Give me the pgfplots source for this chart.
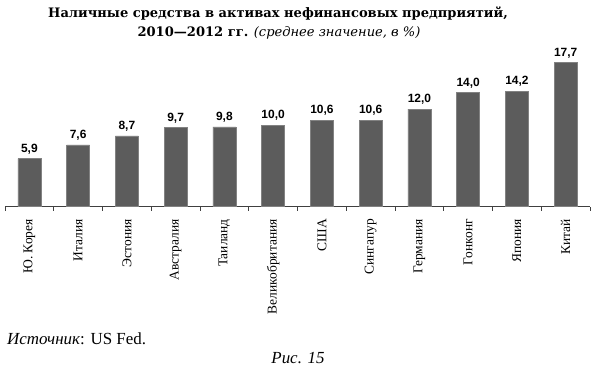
\documentclass[border=0pt]{standalone}
\usepackage{fontspec}
\setmainfont{Liberation Serif}
\newfontfamily\numfont{Liberation Sans}
\newfontfamily\titlefont{DejaVu Serif}
\usepackage{pgfplots}
\pgfplotsset{compat=1.18}
\definecolor{barfill}{RGB}{92,92,92}
\definecolor{baredge}{RGB}{130,130,130}
\begin{document}
\begin{tikzpicture}
\begin{axis}[
  name=ax,
  at={(0,0)}, anchor=south west,
  scale only axis, width=585bp, height=162.8bp,
  xmin=-0.5, xmax=11.5, ymin=0, ymax=20,
  axis y line=none, axis x line*=bottom,
  x axis line style={-, draw=black!75, line width=0.6bp},
  xtick={0,...,11},
  xticklabels={Ю. Корея,Италия,Эстония,Австралия,Таиланд,Великобритания,США,Сингапур,Германия,Гонконг,Япония,Китай},
  major tick length=0pt,
  minor xtick={-0.5,0.5,...,11.5},
  minor tick length=4bp,
  tick align=outside,
  minor tick style={draw=black!75, line width=0.6bp},
  xticklabel style={rotate=90, anchor=east, font=\fontsize{13.5}{15}\selectfont},
  xticklabel shift=9bp,
  ybar, bar width=23bp,
  nodes near coords={\pgfmathprintnumber[fixed,fixed zerofill,precision=1,use comma,assume math mode=true]{\pgfplotspointmeta}},
  every node near coord/.append style={font=\numfont\bfseries\fontsize{12}{14}\selectfont, anchor=south, yshift=1bp},
  clip=false,
]
\addplot[fill=barfill, draw=baredge, line width=0.5bp] coordinates {
(0,5.9) (1,7.6) (2,8.7) (3,9.7) (4,9.8) (5,10.0) (6,10.6) (7,10.6) (8,12.0) (9,14.0) (10,14.2) (11,17.7)};
\end{axis}
\begin{scope}[shift={(ax.south west)}, shift={(-5bp,-161.3bp)}, x=1bp, y=1bp]
\node[font=\titlefont\fontsize{13.1}{16}\selectfont\bfseries, anchor=base] at (278,351) {Наличные средства в активах нефинансовых предприятий,};
\node[font=\titlefont\fontsize{13.1}{16}\selectfont, anchor=base] at (279,332) {\textbf{2010—2012 гг.} \textit{(среднее значение, в \%)}};
\node[font=\fontsize{17}{19}\selectfont, anchor=base west, inner sep=0pt] at (7,24) {\textit{Источник}: US Fed.};
\node[font=\fontsize{17}{19}\selectfont, anchor=base, inner sep=0pt] at (298,5) {\textit{Рис. 15}};
\pgfresetboundingbox
\path[use as bounding box] (0,0) rectangle (595,368);
\end{scope}
\end{tikzpicture}
\end{document}
